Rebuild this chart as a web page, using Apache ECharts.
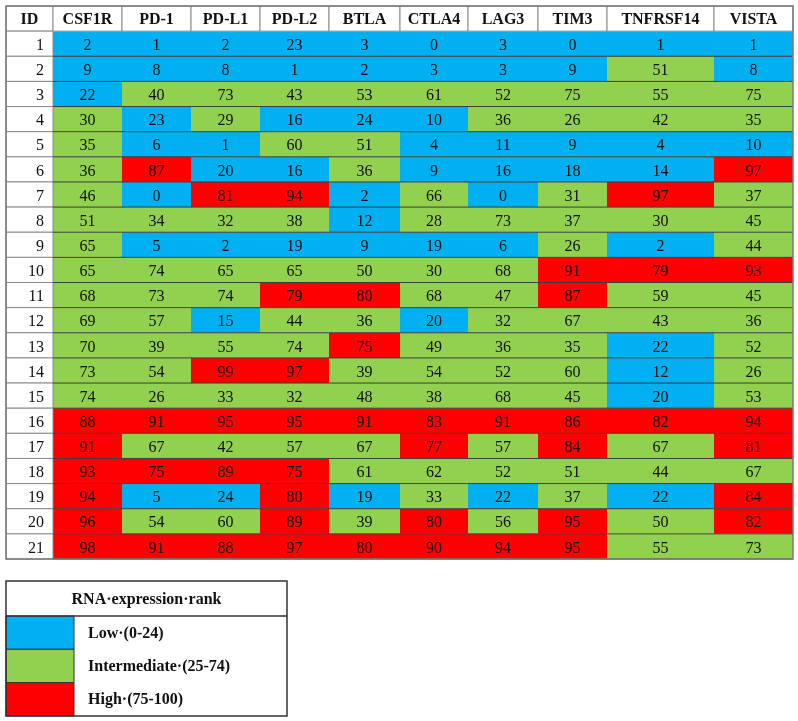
<!DOCTYPE html>
<html><head><meta charset="utf-8">
<script src="https://cdn.jsdelivr.net/npm/echarts@6/dist/echarts.min.js"></script>
<style>html,body{margin:0;padding:0;background:#fff}#c{width:798px;height:721px}</style>
</head><body><div id="c"></div>
<script>
// ---------- data ----------
const idHeader = 'ID';
const genes = ['CSF1R','PD-1','PD-L1','PD-L2','BTLA','CTLA4','LAG3','TIM3','TNFRSF14','VISTA'];
const ids = [1,2,3,4,5,6,7,8,9,10,11,12,13,14,15,16,17,18,19,20,21];
const CSF1R    = [2,9,22,30,35,36,46,51,65,65,68,69,70,73,74,88,91,93,94,96,98];
const PD1      = [1,8,40,23,6,87,0,34,5,74,73,57,39,54,26,91,67,75,5,54,91];
const PDL1     = [2,8,73,29,1,20,81,32,2,65,74,15,55,99,33,95,42,89,24,60,88];
const PDL2     = [23,1,43,16,60,16,94,38,19,65,79,44,74,97,32,95,57,75,80,89,97];
const BTLA     = [3,2,53,24,51,36,2,12,9,50,80,36,75,39,48,91,67,61,19,39,80];
const CTLA4    = [0,3,61,10,4,9,66,28,19,30,68,20,49,54,38,83,77,62,33,80,90];
const LAG3     = [3,3,52,36,11,16,0,73,6,68,47,32,36,52,68,91,57,52,22,56,94];
const TIM3     = [0,9,75,26,9,18,31,37,26,91,87,67,35,60,45,86,84,51,37,95,95];
const TNFRSF14 = [1,51,55,42,4,14,97,30,2,79,59,43,22,12,20,82,67,44,22,50,55];
const VISTA    = [1,8,75,35,10,97,37,45,44,93,45,36,52,26,53,94,81,67,84,82,73];
// colour class per row as shown in the picture (L = low, I = intermediate, H = high)
const levelRows = [
  'LLLLLLLLLL','LLLLLLLLIL','LIIIIIIIII','ILILLLIIII','ILLIILLLLL',
  'IHLLILLLLH','ILHHLILIHI','IIIILIIIII','ILLLLLLILI','IIIIIIIHHH',
  'IIIHHIIHII','IILIILIIII','IIIIHIIILI','IIHHIIIILI','IIIIIIIILI',
  'HHHHHHHHHH','HIIIIHIHIH','HHHHIIIIII','HLLHLILILH','HIIHIHIHIH',
  'HHHHHHHHII'
];
const legendTitle = 'RNA·expression·rank';
const legendKeys = ['L','I','H'];
const legendLabels = ['Low·(0-24)','Intermediate·(25-74)','High·(75-100)'];

// ---------- styling / layout ----------
const levelColor = {L:'#00B0F0', I:'#92D050', H:'#FF0000'};
const colWidths = [47,69,69,69,69,71,68,70,69,107,79];
const FONT = "'Liberation Serif','Times New Roman',serif";
const gridLeft = 6, gridTop = 6, gridW = 787, gridH = 553;

const valuesByGene = [CSF1R,PD1,PDL1,PDL2,BTLA,CTLA4,LAG3,TIM3,TNFRSF14,VISTA];
const colEdges = [0];
colWidths.forEach(w => colEdges.push(colEdges[colEdges.length-1] + w));
const nRows = ids.length + 1;

const cells = [];
for (let r = 0; r < nRows; r++) {
  for (let c = 0; c < colWidths.length; c++) {
    let kind, text, level = null;
    if (r === 0) { kind = 'head'; text = c === 0 ? idHeader : genes[c-1]; }
    else if (c === 0) { kind = 'id'; text = String(ids[r-1]); }
    else { kind = 'data'; text = String(valuesByGene[c-1][r-1]); level = levelRows[r-1][c-1]; }
    cells.push({value:[colEdges[c], colEdges[c+1], r, r+1], kind, text, level});
  }
}

function renderItem(params, api) {
  const cell = cells[params.dataIndex];
  const p0 = api.coord([api.value(0), api.value(2)]);
  const p1 = api.coord([api.value(1), api.value(3)]);
  const x = p0[0], y = p0[1], w = p1[0]-p0[0], h = p1[1]-p0[1];
  const children = [];
  if (cell.kind === 'data') {
    children.push({type:'rect', shape:{x, y, width:w, height:h},
      style:{fill: levelColor[cell.level], stroke:null}, z2:1});
    children.push({type:'line', shape:{x1:x, y1:y+h, x2:x+w, y2:y+h},
      style:{stroke:'#3d3d3d', lineWidth:1}, z2:5});
    children.push({type:'text', x:x+w/2, y:y+h/2+2, z2:6,
      style:{text:cell.text, fill:'#111', font:'16px '+FONT, align:'center', verticalAlign:'middle'}});
  } else {
    children.push({type:'rect', shape:{x, y, width:w, height:h},
      style:{fill:'#fff', stroke:'#8a8a8a', lineWidth:1}, z2:3});
    if (cell.kind === 'head') {
      children.push({type:'text', x:x+w/2, y:y+h/2+1, z2:6,
        style:{text:cell.text, fill:'#111', font:'bold 16px '+FONT, align:'center', verticalAlign:'middle'}});
    } else {
      children.push({type:'text', x:x+w-9, y:y+h/2+2, z2:6,
        style:{text:cell.text, fill:'#111', font:'16px '+FONT, align:'right', verticalAlign:'middle'}});
    }
  }
  return {type:'group', children};
}

// legend box (decoration)
const lgX = 6, lgY = 581, lgW = 281, lgHead = 35, lgRow = 33.3, swW = 68;
const legendEls = [];
legendKeys.forEach((k, i) => {
  legendEls.push({type:'rect', shape:{x:lgX, y:lgY+lgHead+i*lgRow, width:swW, height:lgRow},
    style:{fill:levelColor[k], stroke:'#333', lineWidth:1}, z:10});
  legendEls.push({type:'text', x:lgX+82, y:lgY+lgHead+i*lgRow+lgRow/2+1, z:11,
    style:{text:legendLabels[i], fill:'#111', font:'bold 16px '+FONT, verticalAlign:'middle'}});
});
legendEls.push({type:'text', x:lgX+lgW/2, y:lgY+lgHead/2+1, z:11,
  style:{text:legendTitle, fill:'#111', font:'bold 16px '+FONT, align:'center', verticalAlign:'middle'}});
legendEls.push({type:'line', shape:{x1:lgX, y1:lgY+lgHead, x2:lgX+lgW, y2:lgY+lgHead},
  style:{stroke:'#333', lineWidth:1.5}, z:12});
legendEls.push({type:'rect', shape:{x:lgX, y:lgY, width:lgW, height:lgHead+3*lgRow},
  style:{fill:'none', stroke:'#333', lineWidth:1.5}, z:12});
// table outer frame
legendEls.push({type:'rect', shape:{x:gridLeft, y:gridTop, width:gridW, height:gridH},
  style:{fill:'none', stroke:'#7a7a7a', lineWidth:1.5}, z:12});

const chart = echarts.init(document.getElementById('c'), null, {renderer:'canvas'});
chart.setOption({
  animation:false,
  backgroundColor:'#fff',
  grid:{left:gridLeft, top:gridTop, width:gridW, height:gridH},
  xAxis:{type:'value', min:0, max:colEdges[colEdges.length-1], show:false},
  yAxis:{type:'value', min:0, max:nRows, inverse:true, show:false},
  series:[{type:'custom', renderItem, data:cells, clip:false}],
  graphic:legendEls
});
</script></body></html>
